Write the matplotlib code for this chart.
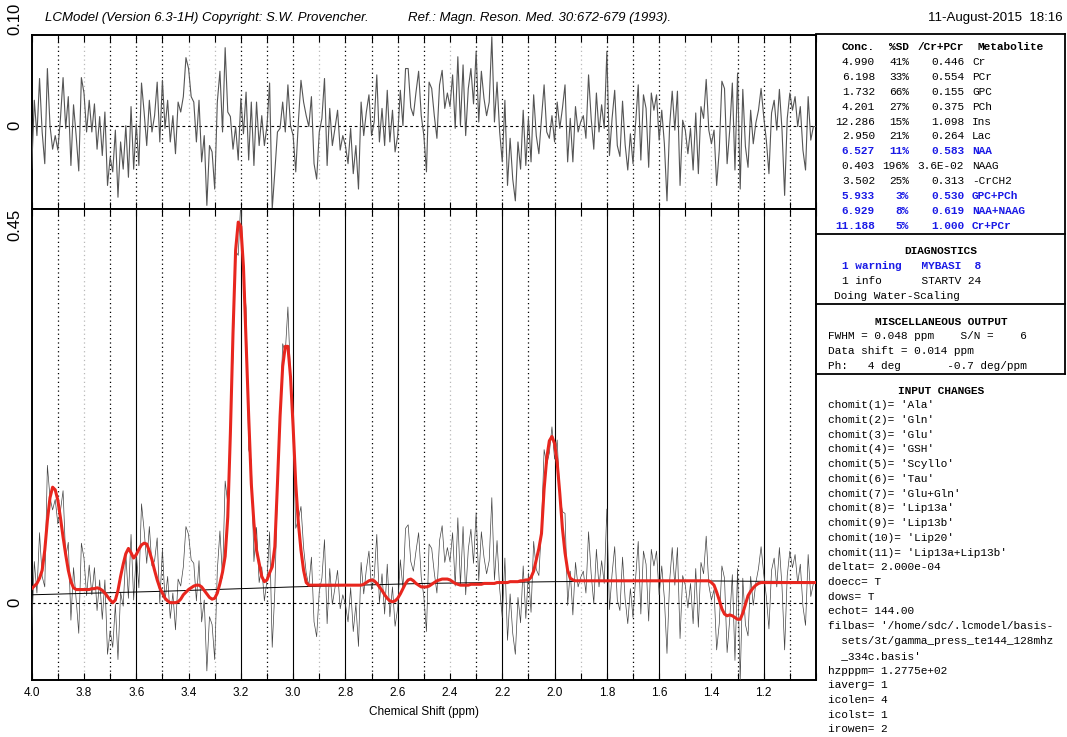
"""LCModel-style output page: residual strip on top, data + fit + baseline
below, and the text panels (concentrations, diagnostics, misc, input) on the right."""

import numpy as np
import matplotlib
matplotlib.use("Agg")
import matplotlib.pyplot as plt
from matplotlib.ticker import MultipleLocator, FixedLocator, FormatStrFormatter

W, H = 1067, 737

# chemical shift grid, 4.00 -> 1.00 ppm in 0.01 steps (301 samples)
PPM = np.linspace(4.0, 1.0, 301)

# residual (data - fit), one row per 0.1 ppm
RESIDUAL = [
    -0.048, 0.028, -0.011, 0.052, -0.007, -0.042, 0.063, 0.000, -0.026, -0.011,   # 4.00
    -0.027, 0.008, 0.053, -0.003, 0.032, -0.044, 0.023, -0.011, -0.050, 0.053,    # 3.90
    0.036, -0.007, 0.028, -0.007, 0.024, -0.026, 0.010, -0.033, 0.015, -0.066,     # 3.80
    -0.035, -0.051, -0.005, -0.079, -0.018, -0.048, 0.000, -0.057, 0.021, -0.048,  # 3.70
    0.002, -0.044, 0.047, 0.015, -0.022, 0.028, -0.007, 0.011, 0.048, -0.018,      # 3.60
    0.050, -0.003, 0.028, -0.018, 0.011, -0.031, 0.026, 0.015, 0.032, 0.075,       # 3.50
    0.063, 0.032, 0.026, -0.018, 0.028, -0.040, -0.011, -0.088, -0.022, -0.029,    # 3.40
    -0.070, 0.026, 0.060, -0.007, 0.086, 0.015, 0.010, -0.026, -0.001, -0.038,     # 3.30
    0.030, -0.009, 0.037, -0.038, 0.026, -0.044, 0.026, -0.022, 0.011, -0.022,     # 3.20
    0.000, 0.047, -0.092, -0.051, -0.007, -0.003, 0.026, -0.007, 0.045, 0.000,     # 3.10
    -0.011, -0.051, 0.004, 0.050, 0.026, 0.011, -0.001, 0.032, -0.042, -0.059,    # 3.00
    -0.007, 0.008, 0.052, -0.044, 0.019, -0.022, -0.003, 0.017, -0.027, -0.011,   # 2.90
    -0.022, -0.042, -0.003, -0.053, -0.022, -0.070, 0.026, -0.011, 0.015, 0.034,  # 2.80
    -0.011, 0.004, 0.056, -0.018, 0.019, -0.022, 0.039, -0.018, 0.017, -0.029,    # 2.70
    -0.011, 0.039, 0.000, 0.063, 0.063, 0.020, 0.011, 0.037, 0.060, 0.011,        # 2.60
    -0.011, -0.051, 0.048, 0.041, 0.011, -0.014, 0.045, 0.061, 0.019, 0.036,      # 2.50
    0.021, 0.056, -0.003, 0.076, 0.000, 0.067, -0.011, 0.041, 0.063, 0.024,       # 2.40
    0.082, 0.004, 0.060, 0.030, 0.011, 0.026, 0.098, 0.004, 0.048, -0.007,        # 2.30
    -0.040, 0.028, -0.066, -0.014, -0.059, -0.083, -0.018, -0.048, 0.017, -0.044, # 2.20
    0.008, -0.040, 0.034, -0.011, -0.031, 0.008, 0.045, -0.007, -0.014, 0.011,    # 2.10
    -0.018, 0.026, -0.003, 0.019, 0.045, -0.040, 0.008, -0.040, 0.021, -0.007,    # 2.00
    0.004, 0.011, -0.014, 0.056, 0.008, -0.026, 0.036, -0.007, 0.023, -0.003,     # 1.90
    0.082, -0.033, 0.008, 0.039, -0.022, -0.034, 0.027, -0.021, -0.049, -0.009,   # 1.80
    -0.042, 0.003, 0.045, -0.038, 0.034, 0.019, -0.046, 0.036, 0.017, 0.034,      # 1.70
    -0.016, 0.017, -0.020, -0.083, -0.001, 0.038, -0.005, 0.038, -0.066, 0.006,   # 1.60
    -0.005, -0.031, -0.003, -0.049, 0.014, -0.053, 0.021, 0.008, 0.051, -0.005,   # 1.50
    -0.020, -0.005, -0.066, -0.027, 0.049, 0.041, -0.042, -0.005, 0.047, -0.049,  # 1.40
    0.058, -0.070, 0.040, -0.023, -0.046, 0.017, -0.020, 0.003, 0.017, 0.041,     # 1.30
    0.010, -0.016, -0.053, 0.014, 0.028, -0.005, 0.040, -0.005, -0.077, 0.008,    # 1.20
    0.036, 0.017, 0.032, -0.001, 0.021, -0.027, -0.049, 0.032, -0.016, -0.001,   # 1.10
    -0.001,                                                                         # 1.00
]

# LCModel fit (red), same grid
FIT = [
    0.016, 0.019, 0.022, 0.028, 0.037, 0.060, 0.094, 0.120, 0.132, 0.129,   # 4.00
    0.117, 0.097, 0.075, 0.055, 0.037, 0.024, 0.017, 0.015, 0.015, 0.015,   # 3.90
    0.015, 0.015, 0.015, 0.016, 0.016, 0.017, 0.016, 0.014, 0.011, 0.007,   # 3.80
    0.003, 0.000, 0.003, 0.014, 0.030, 0.044, 0.056, 0.062, 0.057, 0.051,   # 3.70
    0.055, 0.061, 0.066, 0.068, 0.067, 0.059, 0.049, 0.037, 0.026, 0.017,   # 3.60
    0.011, 0.005, 0.002, 0.000, 0.000, 0.000, 0.001, 0.004, 0.009, 0.012,   # 3.50
    0.015, 0.017, 0.019, 0.020, 0.020, 0.018, 0.014, 0.010, 0.006, 0.004,   # 3.40
    0.005, 0.011, 0.022, 0.035, 0.053, 0.098, 0.194, 0.308, 0.403, 0.435,   # 3.30
    0.430, 0.384, 0.300, 0.213, 0.136, 0.091, 0.060, 0.045, 0.030, 0.024,   # 3.20
    0.026, 0.034, 0.041, 0.064, 0.136, 0.213, 0.270, 0.293, 0.293, 0.258,   # 3.10
    0.201, 0.136, 0.091, 0.060, 0.037, 0.023, 0.020, 0.020, 0.020, 0.020,   # 3.00
    0.020, 0.020, 0.020, 0.020, 0.020, 0.020, 0.020, 0.020, 0.020, 0.020,   # 2.90
    0.020, 0.020, 0.020, 0.020, 0.020, 0.020, 0.020, 0.021, 0.023, 0.025,   # 2.80
    0.026, 0.025, 0.022, 0.018, 0.014, 0.009, 0.005, 0.002, 0.001, 0.002,   # 2.70
    0.005, 0.010, 0.016, 0.022, 0.026, 0.027, 0.025, 0.022, 0.020, 0.018,   # 2.60
    0.018, 0.018, 0.019, 0.021, 0.023, 0.025, 0.026, 0.027, 0.027, 0.027,   # 2.50
    0.026, 0.024, 0.022, 0.021, 0.020, 0.020, 0.020, 0.020, 0.021, 0.021,   # 2.40
    0.021, 0.021, 0.021, 0.022, 0.022, 0.022, 0.022, 0.022, 0.023, 0.023,   # 2.30
    0.023, 0.023, 0.023, 0.024, 0.024, 0.024, 0.024, 0.025, 0.025, 0.026,   # 2.20
    0.026, 0.029, 0.036, 0.049, 0.062, 0.079, 0.130, 0.165, 0.185, 0.190,   # 2.10
    0.182, 0.160, 0.125, 0.085, 0.057, 0.037, 0.028, 0.026, 0.025, 0.025,   # 2.00
    0.025, 0.025, 0.025, 0.025, 0.025, 0.025, 0.025, 0.025, 0.025, 0.025,   # 1.90
    0.025, 0.025, 0.025, 0.025, 0.025, 0.025, 0.025, 0.025, 0.025, 0.025,   # 1.80
    0.025, 0.025, 0.025, 0.025, 0.025, 0.025, 0.025, 0.025, 0.025, 0.025,   # 1.70
    0.025, 0.025, 0.025, 0.025, 0.025, 0.025, 0.025, 0.025, 0.025, 0.025,   # 1.60
    0.025, 0.025, 0.025, 0.025, 0.025, 0.025, 0.025, 0.025, 0.025, 0.025,   # 1.50
    0.023, 0.020, 0.012, 0.003, -0.007, -0.013, -0.015, -0.014, -0.015, -0.017,  # 1.40
    -0.019, -0.019, -0.012, -0.002, 0.008, 0.013, 0.017, 0.020, 0.022, 0.023,   # 1.30
    0.023, 0.023, 0.023, 0.023, 0.023, 0.023, 0.023, 0.023, 0.023, 0.023,   # 1.20
    0.023, 0.023, 0.023, 0.023, 0.023, 0.023, 0.023, 0.023, 0.023, 0.023,   # 1.10
    0.023,                                                                    # 1.00
]

# spline baseline (thin black)
BASE_PPM = [4.0, 3.5, 3.0, 2.5, 2.0, 1.5, 1.0]
BASE_VAL = [0.009, 0.013, 0.018, 0.022, 0.024, 0.025, 0.024]

# labelled ppm ticks and vertical guide lines
LABEL_PPM = [4.0, 3.8, 3.6, 3.4, 3.2, 3.0, 2.8, 2.6, 2.4, 2.2, 2.0, 1.8, 1.6, 1.4, 1.2]
SOLID_PPM = [3.6, 3.2, 3.0, 2.8, 2.6, 2.2, 2.0, 1.8, 1.6, 1.2]
DOT_PPM = [3.9, 3.7, 3.5, 3.1, 2.7, 2.5, 2.3, 2.1, 1.7, 1.3, 1.1]
LIGHT_PPM = [3.8, 3.4, 3.3, 2.9, 2.4, 1.9, 1.5, 1.4]

# concentration table
CONC = ["4.990", "6.198", "1.732", "4.201", "12.286", "2.950", "6.527",
        "0.403", "3.502", "5.933", "6.929", "11.188"]
SD = ["41%", "33%", "66%", "27%", "15%", "21%", "11%", "196%", "25%", "3%", "8%", "5%"]
RATIO = ["0.446", "0.554", "0.155", "0.375", "1.098", "0.264", "0.583",
         "3.6E-02", "0.313", "0.530", "0.619", "1.000"]
METAB = ["Cr", "PCr", "GPC", "PCh", "Ins", "Lac", "NAA", "NAAG", "-CrCH2",
         "GPC+PCh", "NAA+NAAG", "Cr+PCr"]
BLUE_ROWS = ["NAA", "GPC+PCh", "NAA+NAAG", "Cr+PCr"]

DIAG_LINES = [("1 warning   MYBASI  8", True), ("1 info      STARTV 24", False)]
MISC_LINES = ["FWHM = 0.048 ppm    S/N =    6", "Data shift = 0.014 ppm",
              "Ph:   4 deg       -0.7 deg/ppm"]
INPUT_LINES = ["chomit(1)= 'Ala'", "chomit(2)= 'Gln'", "chomit(3)= 'Glu'",
               "chomit(4)= 'GSH'", "chomit(5)= 'Scyllo'", "chomit(6)= 'Tau'",
               "chomit(7)= 'Glu+Gln'", "chomit(8)= 'Lip13a'", "chomit(9)= 'Lip13b'",
               "chomit(10)= 'Lip20'", "chomit(11)= 'Lip13a+Lip13b'",
               "deltat= 2.000e-04", "doecc= T", "dows= T", "echot= 144.00",
               "filbas= '/home/sdc/.lcmodel/basis-",
               "  sets/3t/gamma_press_te144_128mhz", "  _334c.basis'",
               "hzpppm= 1.2775e+02", "iaverg= 1", "icolen= 4", "icolst= 1", "irowen= 2"]

SANS = ["Liberation Sans Narrow", "Liberation Sans", "DejaVu Sans"]
MONO = ["Liberation Mono", "DejaVu Sans Mono"]
RED = "#e8261e"
BLUE = "#1a1ae6"


def box(x0, y0, x1, y1):
    # pixel rectangle -> figure fraction [left, bottom, width, height]
    return [x0 / W, 1 - y1 / H, (x1 - x0) / W, (y1 - y0) / H]


def guides(ax, upper):
    for p in SOLID_PPM:
        if upper:
            ax.axvline(p, color="k", lw=0.9, ls=(0, (1, 2.5)), zorder=1)
        else:
            ax.axvline(p, color="k", lw=0.8, zorder=1)
    for p in DOT_PPM:
        ax.axvline(p, color="k", lw=0.9, ls=(0, (1, 2.5)), zorder=1)
    for p in LIGHT_PPM:
        ax.axvline(p, color="#b8b8b8", lw=0.9, ls=(0, (1, 2.5)), zorder=1)
    ax.axhline(0, color="k", lw=0.8, ls=(0, (2.5, 2.5)), zorder=1)


def style(ax):
    ax.set_xlim(4.0, 1.0)
    ax.xaxis.set_major_locator(FixedLocator(LABEL_PPM))
    ax.xaxis.set_minor_locator(MultipleLocator(0.1))
    ax.set_yticks([])
    for s in ax.spines.values():
        s.set_linewidth(1.4)
    ax.tick_params(axis="x", which="both", direction="in", top=True, bottom=True,
                   length=5, width=0.8)


def ylabel(ax, val, text, ha):
    ax.text(-0.021, val, text, rotation=90, rotation_mode="anchor", ha=ha, va="center",
            transform=ax.get_yaxis_transform(), fontsize=12, family=SANS[1:],
            clip_on=False)


def main():
    resid = np.array(RESIDUAL)
    fit = np.array(FIT)
    data = fit + resid  # LCModel residual = data - fit

    fig = plt.figure(figsize=(W / 100, H / 100), dpi=100)

    ax_r = fig.add_axes(box(31.7, 35, 816, 209))
    style(ax_r)
    ax_r.set_ylim(-0.092, 0.10)
    ax_r.tick_params(axis="x", labelbottom=False)
    guides(ax_r, True)
    ax_r.plot(PPM, resid, color="#555555", lw=0.8, zorder=3)
    ylabel(ax_r, 0.10, "0.10", "left")
    ylabel(ax_r, 0.0, "0", "center")

    ax = fig.add_axes(box(31.7, 209, 816, 680))
    style(ax)
    ax.set_ylim(-0.0884, 0.45)
    guides(ax, False)
    ax.plot(PPM, data, color="#444444", lw=0.5, zorder=3)
    ax.plot(BASE_PPM, BASE_VAL, color="k", lw=0.7, zorder=4)
    ax.plot(PPM, fit, color=RED, lw=2.2, zorder=5)
    ax.xaxis.set_major_formatter(FormatStrFormatter("%.1f"))
    ax.tick_params(axis="x", labelsize=8.5, pad=5)
    for t in ax.get_xticklabels():
        t.set_family(SANS)
    ax.set_xlabel("Chemical Shift (ppm)", fontsize=8.5, family=SANS, labelpad=5)
    ylabel(ax, 0.45, "0.45", "right")
    ylabel(ax, 0.0, "0", "center")

    # page furniture in pixel coordinates
    pg = fig.add_axes([0, 0, 1, 1], zorder=10)
    pg.set_xlim(0, W)
    pg.set_ylim(H, 0)
    pg.axis("off")

    pg.text(45, 18, "LCModel (Version 6.3-1H) Copyright: S.W. Provencher.",
            style="italic", fontsize=9.5, family=SANS, va="center")
    pg.text(408, 18, "Ref.: Magn. Reson. Med. 30:672-679 (1993).",
            style="italic", fontsize=9.5, family=SANS, va="center")
    pg.text(1063, 18, "11-August-2015  18:16", fontsize=9.5, family=SANS,
            va="center", ha="right")

    # right-hand boxes
    for y in [34, 234, 304, 374]:
        pg.plot([816, 1065], [y, y], color="k", lw=1.3)
    pg.plot([1065, 1065], [34, 374], color="k", lw=1.3)

    mono = dict(family=MONO, fontsize=8, va="center")
    y0, dy = 47, 14.9
    pg.text(875, y0, "Conc.", ha="right", weight="bold", **mono)
    pg.text(909, y0, "%SD", ha="right", weight="bold", **mono)
    pg.text(964, y0, "/Cr+PCr", ha="right", weight="bold", **mono)
    pg.text(978, y0, "Metabolite", ha="left", weight="bold", **mono)
    for i, name in enumerate(METAB):
        y = y0 + dy * (i + 1)
        blue = name in BLUE_ROWS
        kw = dict(mono, color=BLUE if blue else "k", weight="bold" if blue else "normal")
        pg.text(875, y, CONC[i], ha="right", **kw)
        pg.text(909, y, SD[i], ha="right", **kw)
        pg.text(964, y, RATIO[i], ha="right", **kw)
        pg.text(972, y, name, ha="left", **kw)

    pg.text(941, 251, "DIAGNOSTICS", ha="center", weight="bold", **mono)
    for i, (line, blue) in enumerate(DIAG_LINES):
        pg.text(842, 266 + 15 * i, line, color=BLUE if blue else "k",
                weight="bold" if blue else "normal", **mono)
    pg.text(834, 296, "Doing Water-Scaling", **mono)

    pg.text(941, 322, "MISCELLANEOUS OUTPUT", ha="center", weight="bold", **mono)
    for i, line in enumerate(MISC_LINES):
        pg.text(828, 336 + 15 * i, line, **mono)

    pg.text(941, 391, "INPUT CHANGES", ha="center", weight="bold", **mono)
    for i, line in enumerate(INPUT_LINES):
        pg.text(828, 405 + 14.75 * i, line, **mono)

    fig.savefig("out.png", dpi=100)


if __name__ == "__main__":
    main()
